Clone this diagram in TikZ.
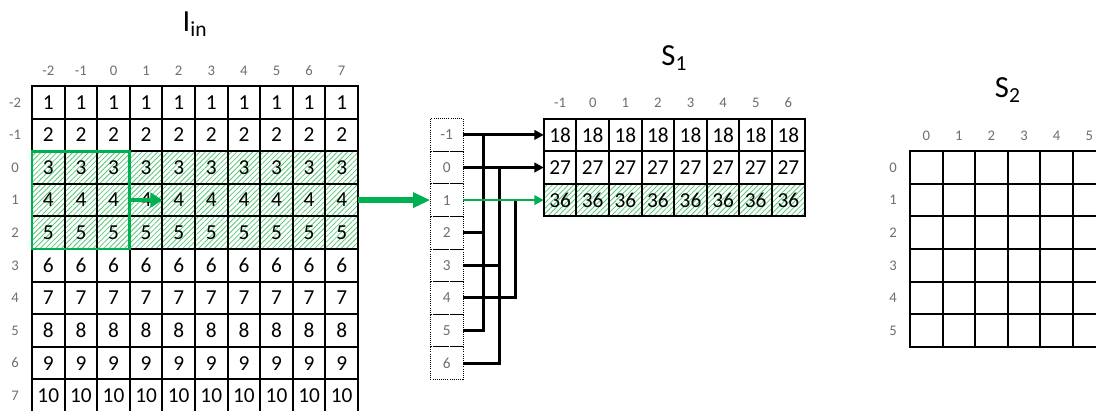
\documentclass[tikz,border=0pt]{standalone}
\usepackage{fontspec}
\setmainfont{Carlito}
\usetikzlibrary{arrows.meta,patterns.meta}
\definecolor{xlgreen}{RGB}{0,176,80}
\definecolor{hatchgreen}{RGB}{90,200,120}
\definecolor{idxgray}{RGB}{110,110,110}
\tikzset{
	cell/.style={draw, line width=1.5pt, minimum size=24.45pt, inner sep=0pt, outer sep=0pt, font=\fontsize{16}{18}\selectfont},
	midbox/.style={draw, densely dotted, line width=0.6pt, minimum size=24.45pt, inner sep=0pt, outer sep=0pt, text=idxgray, font=\fontsize{11.5}{13}\selectfont},
	idx/.style={text=idxgray, font=\fontsize{11}{13}\selectfont},
	title/.style={anchor=base, font=\fontsize{23}{26}\selectfont},
	hatched/.style={pattern={Lines[angle=45,distance=2.8pt,line width=0.6pt]}, pattern color=hatchgreen},
	conn/.style={line width=2.2pt},
	connarrow/.style={conn, -{Triangle[length=7pt,width=7pt]}},
	fatarrow/.style={xlgreen, line width=4.5pt, -{Triangle[length=13pt,width=11pt]}}
}
\begin{document}
\begin{tikzpicture}[x=24.45pt, y=-24.45pt]
		\useasboundingbox (-0.982,-2.638) rectangle (32.638,9.939);
		
		% input image
		\node[title] (tin) at (5,-1.66) {I\textsubscript{in}};
		\fill[hatched] (0,2) rectangle (10,5);
		\foreach \r [count=\j from 0] in {-2,...,7}{
			\node[idx] (inrow\j) at (-0.52,\j+0.5) {\r};
			\node[idx] (incol\j) at (\j+0.5,-0.47) {\r};
			\pgfmathtruncatemacro\v{\j+1}
			\foreach \i in {0,...,9}{
				\node[cell] (in-\i-\j) at (\i+0.5,\j+0.5) {\v};
			}
		}
		\draw[xlgreen, line width=2.2pt] (in-0-2.north west) rectangle (in-2-4.south east);
		\draw[xlgreen, line width=3.4pt, -{Triangle[length=9pt,width=11pt]}] (in-2-3.east) -- (in-3-3.east);
		
		% row buffer
		\foreach \r [count=\j from 1] in {-1,...,6}{
			\node[midbox] (m\r) at (12.72,\j+0.5) {\r};
		}
		\draw[fatarrow] (in-9-3.east) -- (m1.west);
		
		\coordinate (j1) at (13.84,1.5);
		\coordinate (j2) at (14.33,2.5);
		\coordinate (j3) at (14.82,3.5);
		
		% S1
		\node[title] (ts1) at (19.7,-0.64) {S\textsubscript{1}};
		\fill[hatched] (15.7,3) rectangle (23.7,4);
		\foreach \c [count=\i from 0] in {-1,...,6}{
			\node[idx] (s1col\i) at (16.2+\i,0.52) {\c};
			\foreach \v [count=\j from 1] in {18,27,36}{
				\node[cell] (s1-\i-\j) at (16.2+\i,\j+0.5) {\v};
			}
		}
		
		\draw[conn] (m5.east) -| (j1);
		\draw[conn] (m2.east) -- (m2.east -| j1);
		\draw[conn] (m6.east) -| (j2);
		\draw[conn] (m3.east) -- (m3.east -| j2);
		\draw[conn] (m4.east) -| (j3);
		\draw[connarrow] (m-1.east) -- (s1-0-1.west);
		\draw[connarrow] (m0.east) -- (s1-0-2.west);
		\draw[xlgreen, line width=1.5pt, -{Triangle[length=7pt,width=7pt]}] (m1.east) -- (s1-0-3.west);
		
		% S2
		\node[title] (ts2) at (29.93,0.34) {S\textsubscript{2}};
		\foreach \n in {0,...,5}{
			\node[idx] (s2col\n) at (27.43+\n,1.53) {\n};
			\node[idx] (s2row\n) at (26.41,\n+2.5) {\n};
			\foreach \k in {0,...,5}{
				\node[cell] (s2-\n-\k) at (27.43+\n,\k+2.5) {};
			}
		}
		\end{tikzpicture}
\end{document}
